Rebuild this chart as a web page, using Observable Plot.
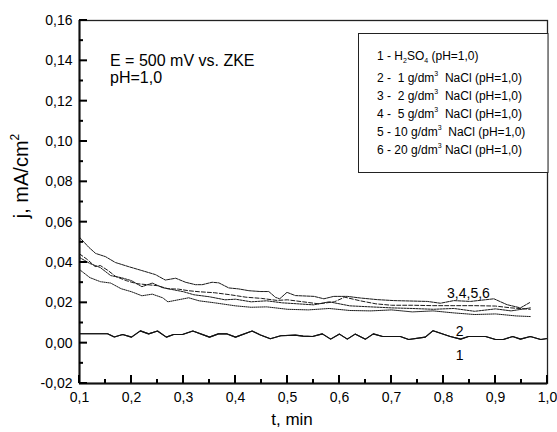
<!DOCTYPE html>
<html><head><meta charset="utf-8">
<script src="https://cdn.jsdelivr.net/npm/d3@7"></script>
<script src="https://cdn.jsdelivr.net/npm/@observablehq/plot@0.6"></script>
<style>
body{margin:0;background:#fff}
svg{font-family:"Liberation Sans",Arial,Helvetica,sans-serif}
</style>
</head><body><div id="chart"></div>
<script>
// ---- data ----
const t1 = [0.1,0.154,0.167,0.183,0.2,0.217,0.233,0.25,0.267,0.281,0.298,0.318,0.35,0.367,0.384,0.4,0.432,0.448,0.467,0.487,0.515,0.53,0.548,0.567,0.583,0.6,0.615,0.63,0.65,0.665,0.683,0.717,0.733,0.765,0.78,0.813,0.833,0.848,0.881,0.9,0.915,0.933,0.948,0.967,0.987,1.0];
const j1 = [0.0047,0.0047,0.0031,0.0043,0.003,0.0061,0.0046,0.006,0.003,0.0043,0.0043,0.006,0.003,0.0046,0.0046,0.003,0.006,0.004,0.0022,0.0037,0.004,0.0035,0.0033,0.0046,0.002,0.0045,0.002,0.0045,0.002,0.0046,0.0033,0.0033,0.0018,0.003,0.0062,0.0033,0.002,0.0033,0.0033,0.0018,0.0018,0.0033,0.002,0.0033,0.0018,0.0023];
const t2 = [0.1,0.154,0.167,0.183,0.2,0.217,0.233,0.25,0.267,0.281,0.298,0.318,0.35,0.367,0.384,0.4,0.432,0.448,0.467,0.487,0.515,0.53,0.548,0.567,0.583,0.6,0.615,0.63,0.65,0.665,0.683,0.717,0.733,0.765,0.78,0.813,0.833,0.848,0.881,0.9,0.915,0.933,0.948,0.967,0.987,1.0];
const j2 = [0.0047,0.0047,0.0031,0.0043,0.003,0.0061,0.0046,0.006,0.003,0.0043,0.0043,0.006,0.003,0.0046,0.0046,0.003,0.006,0.004,0.0022,0.0037,0.004,0.0035,0.0033,0.0046,0.002,0.0045,0.002,0.0045,0.002,0.0046,0.0033,0.0033,0.0018,0.003,0.0062,0.0033,0.002,0.0033,0.0033,0.0018,0.0018,0.0033,0.002,0.0033,0.0018,0.0023];
const t3 = [0.1,0.118,0.131,0.15,0.169,0.195,0.22,0.246,0.265,0.285,0.304,0.323,0.336,0.355,0.368,0.387,0.406,0.426,0.448,0.464,0.477,0.485,0.499,0.515,0.551,0.57,0.589,0.615,0.64,0.672,0.705,0.769,0.794,0.82,0.852,0.897,0.922,0.948,0.967];
const j3 = [0.0525,0.0475,0.0445,0.0429,0.040,0.0379,0.036,0.034,0.0313,0.0322,0.0302,0.029,0.029,0.0302,0.0299,0.0274,0.0269,0.026,0.0256,0.0256,0.0227,0.022,0.0252,0.0236,0.0232,0.022,0.0232,0.0232,0.0224,0.0216,0.0211,0.0207,0.0198,0.0211,0.0207,0.022,0.0191,0.0175,0.0203];
const t4 = [0.1,0.115,0.13,0.14,0.155,0.17,0.19,0.21,0.23,0.25,0.27,0.29,0.31,0.33,0.36,0.39,0.42,0.45,0.48,0.5,0.53,0.56,0.59,0.61,0.64,0.67,0.7,0.74,0.78,0.82,0.86,0.9,0.93,0.967];
const j4 = [0.0443,0.0415,0.038,0.0385,0.036,0.033,0.031,0.0295,0.029,0.0285,0.027,0.0268,0.026,0.0255,0.025,0.024,0.0228,0.0222,0.0212,0.0215,0.0205,0.0195,0.0205,0.0228,0.021,0.0195,0.0188,0.0188,0.0186,0.0186,0.0186,0.0184,0.0175,0.0168];
const t5 = [0.1,0.12,0.14,0.16,0.18,0.2,0.22,0.24,0.26,0.28,0.3,0.32,0.35,0.38,0.4,0.43,0.46,0.49,0.52,0.55,0.58,0.62,0.66,0.7,0.74,0.78,0.82,0.86,0.9,0.93,0.967];
const j5 = [0.0425,0.0395,0.0375,0.0335,0.0325,0.031,0.028,0.0298,0.0275,0.0265,0.0255,0.024,0.023,0.0215,0.0218,0.0205,0.021,0.02,0.0195,0.019,0.0205,0.0185,0.018,0.0175,0.0172,0.0168,0.0172,0.0158,0.017,0.016,0.0175];
const t6 = [0.1,0.12,0.14,0.16,0.18,0.2,0.22,0.24,0.26,0.27,0.29,0.31,0.33,0.36,0.4,0.43,0.46,0.5,0.54,0.58,0.62,0.66,0.7,0.74,0.78,0.82,0.86,0.9,0.94,0.967];
const j6 = [0.0365,0.0325,0.0305,0.0298,0.027,0.0255,0.0235,0.0243,0.0225,0.0205,0.0215,0.0225,0.021,0.02,0.0185,0.0178,0.018,0.0168,0.0165,0.0172,0.0162,0.016,0.0165,0.0155,0.016,0.015,0.0142,0.0145,0.0135,0.0132];

const xTicks = [0.1,0.2,0.3,0.4,0.5,0.6,0.7,0.8,0.9,1.0];
const xMinor = [0.15,0.25,0.35,0.45,0.55,0.65,0.75,0.85,0.95];
const yTicks = [-0.02,0,0.02,0.04,0.06,0.08,0.10,0.12,0.14,0.16];
const yMinor = [-0.01,0.01,0.03,0.05,0.07,0.09,0.11,0.13,0.15];

const curveLabels = [
  {text:"3,4,5,6", t:0.848, j:0.0245},
  {text:"2", t:0.831, j:0.0057},
  {text:"1", t:0.831, j:-0.006}
];

// ---- build rows ----
const series = [
  {id:1, t:t1, j:j1, dash:null},
  {id:2, t:t2, j:j2, dash:null},
  {id:3, t:t3, j:j3, dash:"3,1"},
  {id:4, t:t4, j:j4, dash:"4,2"},
  {id:5, t:t5, j:j5, dash:"2,1"},
  {id:6, t:t6, j:j6, dash:"1,1"}
];
const rows = s => s.t.map((t,i)=>({t, j:s.j[i]}));
const comma = (d, n) => d.toFixed(n).replace(".", ",");
const xMin = xTicks[0], yMin = yTicks[0];

const plot = Plot.plot({
  width: 557, height: 432,
  marginLeft: 79, marginRight: 10, marginTop: 20, marginBottom: 49,
  style: {fontFamily: '"Liberation Sans", Arial, sans-serif', background: "#fff", overflow: "visible"},
  x: {domain: [0.1, 1.0], axis: null},
  y: {domain: [-0.02, 0.16], axis: null},
  marks: [
    ...series.map(s => Plot.line(rows(s), {x:"t", y:"j", stroke: s.id <= 2 ? "#111" : "#1a1a1a", strokeWidth: s.id <= 2 ? 1.1 : 1, strokeDasharray: s.dash})),
    Plot.frame({stroke:"#222", strokeWidth: 1.3}),
    Plot.ruleX([xMin], {stroke:"#111", strokeWidth: 2}),
    Plot.ruleY([yMin], {stroke:"#111", strokeWidth: 2}),
    Plot.axisY(yTicks, {anchor:"left", tickSize:0, tickPadding:7, tickFormat: d => comma(d,2), fontSize: 14, fill:"#000", label:null}),
    Plot.axisX(xTicks, {anchor:"bottom", tickSize:0, tickPadding:9, tickFormat: d => comma(d,1), fontSize: 14, fill:"#000", label:null}),
    Plot.text(curveLabels, {x:"t", y:"j", text:"text", fontSize: 14, fill:"#000"})
  ]
});
document.getElementById("chart").append(plot);

// ---- inward ticks, drawn through the plot's own scales ----
const sx = plot.scale("x"), sy = plot.scale("y");
const svg = d3.select(plot);
const tg = svg.append("g").attr("stroke", "#000").attr("stroke-width", 2);
const x0 = sx.apply(xMin), y0 = sy.apply(yMin);
[[yTicks, 8], [yMinor, 4]].forEach(([vals, len]) => vals.forEach(v => {
  const y = sy.apply(v);
  tg.append("line").attr("x1", x0).attr("x2", x0 + len).attr("y1", y).attr("y2", y);
}));
[[xTicks, 8], [xMinor, 4]].forEach(([vals, len]) => vals.forEach(v => {
  const x = sx.apply(v);
  tg.append("line").attr("x1", x).attr("x2", x).attr("y1", y0).attr("y2", y0 - len);
}));

// ---- annotations, legend box, axis titles ----
const g = svg.append("g").attr("fill", "#000").attr("text-anchor", "start");

g.append("text").attr("x", 110).attr("y", 66).attr("font-size", 16).text("E = 500 mV vs. ZKE");
g.append("text").attr("x", 110).attr("y", 83).attr("font-size", 16).text("pH=1,0");

g.append("rect").attr("x", 358.5).attr("y", 33.5).attr("width", 189.5).attr("height", 139)
  .attr("fill", "#fff").attr("stroke", "#222").attr("stroke-width", 1);

const legendLines = [
  [["1 - H"], ["2", "sub"], ["SO"], ["4", "sub"], [" (pH=1,0)"]],
  [["2 -  1 g/dm"], ["3", "sup"], ["  NaCl (pH=1,0)"]],
  [["3 -  2 g/dm"], ["3", "sup"], ["  NaCl (pH=1,0)"]],
  [["4 -  5 g/dm"], ["3", "sup"], ["  NaCl (pH=1,0)"]],
  [["5 - 10 g/dm"], ["3", "sup"], ["  NaCl (pH=1,0)"]],
  [["6 - 20 g/dm"], ["3", "sup"], [" NaCl (pH=1,0)"]]
];
const baselines = [60, 82, 100, 117.5, 135.5, 154];
legendLines.forEach((parts, i) => {
  const tx = g.append("text").attr("x", 377).attr("y", baselines[i]).attr("font-size", 12).attr("fill", "#000").style("white-space", "pre");
  parts.forEach(([s, kind]) => {
    const ts = tx.append("tspan").attr("fill", "#000").text(s);
    if (kind === "sub") ts.attr("font-size", 7).attr("baseline-shift", "-3");
    if (kind === "sup") ts.attr("font-size", 7).attr("baseline-shift", "6");
  });
});

g.append("text").attr("x", 292).attr("y", 425).attr("text-anchor", "middle").attr("font-size", 17).text("t, min");

const yl = g.append("text").attr("transform", "translate(28,176) rotate(-90)").attr("text-anchor", "middle").attr("font-size", 20);
yl.append("tspan").text("j, mA/cm");
yl.append("tspan").attr("font-size", 12).attr("baseline-shift", "9").text("2");
</script>
</body></html>
